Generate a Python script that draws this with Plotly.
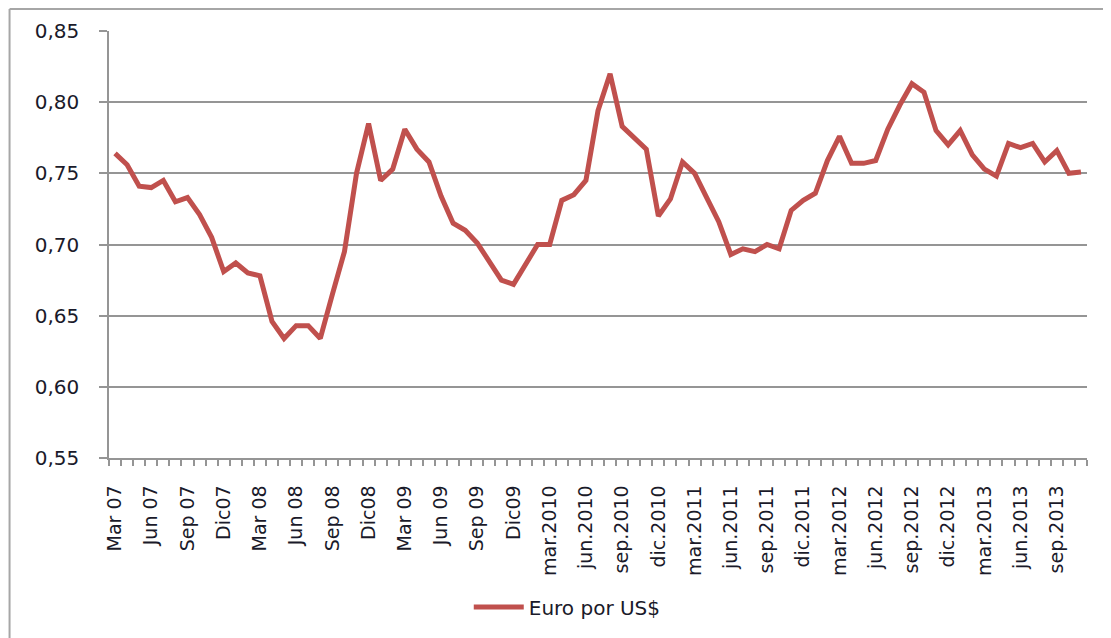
import plotly.graph_objects as go

# Monthly categories Mar 2007 .. Nov 2013
months_es_old = ["Ene", "Feb", "Mar", "Abr", "May", "Jun", "Jul", "Ago", "Sep", "Oct", "Nov", "Dic"]
months_es_new = ["ene.", "feb.", "mar.", "abr.", "may.", "jun.", "jul.", "ago.", "sep.", "oct.", "nov.", "dic."]

categories = []
for y in range(2007, 2014):
    for m in range(12):
        if (y == 2007 and m < 2) or (y == 2013 and m > 10):
            continue
        if y <= 2009:
            lab = months_es_old[m] + (" " if m != 11 else "") + str(y)[2:]
        else:
            lab = months_es_new[m] + str(y)
        categories.append(lab)

euro_por_usd = [
    0.764, 0.756, 0.741, 0.740, 0.745, 0.730, 0.733, 0.721, 0.705, 0.681,  # 2007
    0.687, 0.680, 0.678, 0.646, 0.634, 0.643, 0.643, 0.634, 0.665, 0.695, 0.750, 0.785,  # 2008
    0.745, 0.753, 0.781, 0.767, 0.758, 0.734, 0.715, 0.710, 0.701, 0.688, 0.675, 0.672,  # 2009
    0.686, 0.700, 0.700, 0.731, 0.735, 0.745, 0.794, 0.820, 0.783, 0.775, 0.767, 0.720,  # 2010
    0.732, 0.758, 0.750, 0.733, 0.716, 0.693, 0.697, 0.695, 0.700, 0.697, 0.724, 0.731,  # 2011
    0.736, 0.759, 0.776, 0.757, 0.757, 0.759, 0.781, 0.798, 0.813, 0.807, 0.780, 0.770,  # 2012
    0.780, 0.763, 0.753, 0.748, 0.771, 0.768, 0.771, 0.758, 0.766, 0.750, 0.751,  # 2013
]

series_name = "Euro por US$"
y_ticks = [0.55, 0.60, 0.65, 0.70, 0.75, 0.80, 0.85]

x_idx = list(range(len(categories)))
label_idx = x_idx[::3]
label_txt = [categories[i] for i in label_idx]

FONT = "DejaVu Sans"
TXT = "#1a1a2a"
GRID = "#959595"

fig = go.Figure()
fig.add_trace(go.Scatter(
    x=x_idx, y=euro_por_usd, mode="lines", name=series_name,
    line=dict(color="#c0504d", width=5),
))

# The page body adds an 8px offset; figure sized to fill the window.
OFF = 8
W, H = 1111 - OFF, 638 - OFF
# plot area in page pixels: x 108.5..1087, y 31..458
L = 108.5 - OFF
T = 31 - OFF
R = W - (1087 - OFF)
B = H - (458 - OFF)
pw, ph = W - L - R, H - T - B

def px_x(p):  # page px -> paper x
    return (p - OFF - L) / pw

def px_y(p):  # page px -> paper y
    return (H - B - (p - OFF)) / ph

fig.update_layout(
    width=W, height=H,
    margin=dict(l=L, r=R, t=T, b=B, pad=0),
    paper_bgcolor="white", plot_bgcolor="white",
    separators=",.",
    font=dict(family=FONT, size=20, color=TXT),
    showlegend=True,
    legend=dict(orientation="h", x=px_x(567), xanchor="center", y=px_y(607), yanchor="middle",
                font=dict(family=FONT, size=20, color=TXT), itemwidth=50),
    xaxis=dict(
        range=[-0.5, len(categories) - 0.5],
        tickmode="array", tickvals=label_idx, ticktext=label_txt,
        tickangle=-90, ticks="", showgrid=False, zeroline=False,
        showline=True, linecolor=GRID, linewidth=1.5,
        tickfont=dict(family=FONT, size=19, color=TXT),
        ticklabelstandoff=18,
        minor=dict(tick0=-0.5, dtick=1, ticks="outside", ticklen=6, tickcolor=GRID, tickwidth=1.5, showgrid=False),
    ),
    yaxis=dict(
        range=[0.55, 0.85],
        tickmode="array", tickvals=y_ticks, tickformat=".2f",
        ticks="outside", ticklen=8, tickcolor=GRID, tickwidth=1.5,
        showgrid=True, gridcolor=GRID, gridwidth=1.5,
        zeroline=False, showline=True, linecolor=GRID, linewidth=1.5,
        tickfont=dict(family=FONT, size=20, color=TXT),
        ticklabelstandoff=16,
    ),
    shapes=[
        dict(type="line", xref="paper", yref="paper", x0=px_x(9), x1=px_x(1111), y0=px_y(9), y1=px_y(9),
             line=dict(color="#a6a6a6", width=2)),
        dict(type="line", xref="paper", yref="paper", x0=px_x(9), x1=px_x(9), y0=px_y(9), y1=px_y(638),
             line=dict(color="#a6a6a6", width=2)),
    ],
)

fig.write_html("out.html")
